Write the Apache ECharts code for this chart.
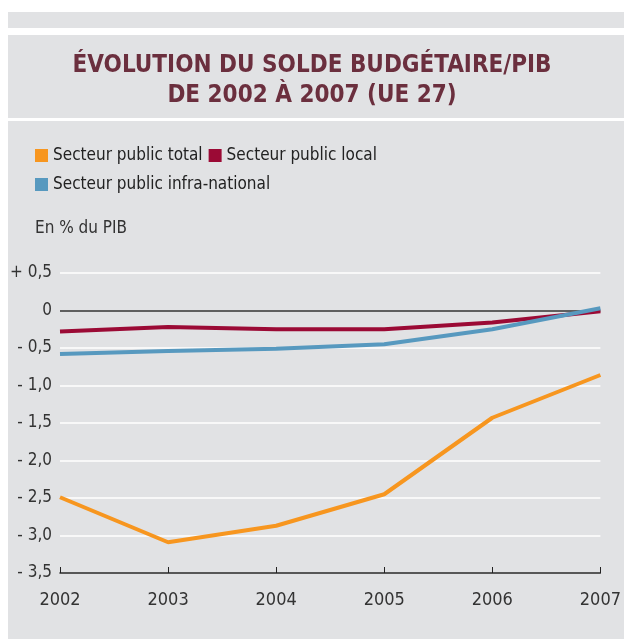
<!DOCTYPE html>
<html>
<head>
<meta charset="utf-8">
<script src="https://cdn.jsdelivr.net/npm/echarts@6/dist/echarts.min.js"></script>
<style>
  html, body { margin: 0; padding: 0; background: #fff; }
  #chart { width: 624px; height: 639px; }
</style>
</head>
<body>
<div id="chart"></div>
<script>
// données (en % du PIB)
const years = ['2002', '2003', '2004', '2005', '2006', '2007'];
const totalSeries = [-2.49, -3.09, -2.87, -2.45, -1.43, -0.86];
const localSeries = [-0.28, -0.22, -0.25, -0.25, -0.16, -0.01];
const infraSeries = [-0.58, -0.54, -0.51, -0.45, -0.25, 0.03];
const seriesNames = ['Secteur public total', 'Secteur public local', 'Secteur public infra-national'];

const font = '"Liberation Sans Narrow", "DejaVu Sans Condensed", sans-serif';
const bg = '#e1e2e4';

let chart = echarts.init(document.getElementById('chart'));

function yLabel(v) {
  if (v === 0) return '0';
  let s = Math.abs(v).toFixed(1).replace('.', ',');
  return (v > 0 ? '+ ' : '- ') + s;
}

let option = {
  backgroundColor: '#fff',
  animation: false,
  graphic: [
    { type: 'rect', shape: { x: 8, y: 12, width: 616, height: 16 }, style: { fill: bg }, z: -10 },
    { type: 'rect', shape: { x: 8, y: 35, width: 616, height: 83 }, style: { fill: bg }, z: -10 },
    { type: 'rect', shape: { x: 8, y: 121, width: 616, height: 518 }, style: { fill: bg }, z: -10 },
    {
      type: 'text', left: 35, top: 220,
      style: { text: 'En % du PIB', font: '17px ' + font, fill: '#333' }
    }
  ],
  title: {
    text: 'ÉVOLUTION DU SOLDE BUDGÉTAIRE/PIB\nDE 2002 À 2007 (UE 27)',
    left: 'center',
    top: 46,
    textStyle: {
      fontFamily: font,
      fontWeight: 'bold',
      fontSize: 24,
      lineHeight: 30,
      color: '#6b2f3e'
    }
  },
  legend: [
    {
      data: seriesNames.slice(0, 2),
      left: 30, top: 142,
      icon: 'rect', itemWidth: 13, itemHeight: 13, itemGap: 6,
      textStyle: { fontFamily: font, fontSize: 17, color: '#222' }
    },
    {
      data: seriesNames.slice(2),
      left: 30, top: 171,
      icon: 'rect', itemWidth: 13, itemHeight: 13,
      textStyle: { fontFamily: font, fontSize: 17, color: '#222' }
    }
  ],
  grid: { left: 60, right: 22, top: 273, bottom: 66, containLabel: false },
  xAxis: {
    type: 'category',
    data: years,
    boundaryGap: false,
    axisLine: { onZero: false, lineStyle: { color: '#222', width: 1.5 } },
    axisTick: { inside: true, length: 6, lineStyle: { color: '#222' } },
    axisLabel: { fontFamily: font, fontSize: 18, color: '#333', margin: 18 },
    splitLine: { show: false }
  },
  yAxis: {
    type: 'value',
    min: -3.5, max: 0.5, interval: 0.5,
    axisLine: { show: false },
    axisTick: { show: false },
    axisLabel: { fontFamily: font, fontSize: 17, color: '#333', margin: 8, formatter: yLabel },
    splitLine: {
      lineStyle: {
        color: ['#fff', '#fff', '#fff', '#fff', '#fff', '#fff', '#fff', '#333', '#fff'],
        width: 1.5
      }
    }
  },
  series: [
    {
      name: seriesNames[0], type: 'line', data: totalSeries,
      symbol: 'none', color: '#f7961f', lineStyle: { width: 4 }
    },
    {
      name: seriesNames[1], type: 'line', data: localSeries,
      symbol: 'none', color: '#9b0a35', lineStyle: { width: 4 }
    },
    {
      name: seriesNames[2], type: 'line', data: infraSeries,
      symbol: 'none', color: '#5799bf', lineStyle: { width: 4 }, z: 3
    }
  ]
};

chart.setOption(option);
</script>
</body>
</html>
